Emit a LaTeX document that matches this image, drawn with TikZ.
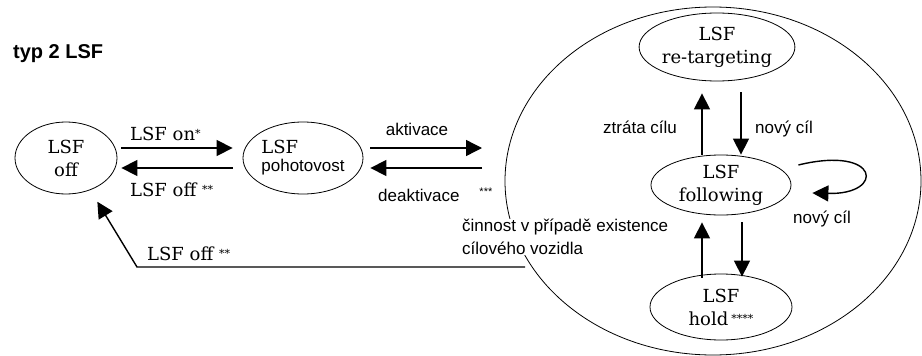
\documentclass[tikz,border=0pt]{standalone}
\usepackage{fontspec}
\setmainfont{DejaVu Serif}
\setsansfont{Liberation Sans}
\usetikzlibrary{shapes.geometric,arrows.meta,calc}
\newcommand{\hv}{\fontsize{17}{23}\selectfont\sffamily}
\newcommand{\ser}{\fontsize{18}{23}\selectfont}
\newcommand{\hvezdy}[1]{\raisebox{3pt}{\fontsize{11}{11}\selectfont #1}}
\begin{document}
\begin{tikzpicture}[x=1pt,y=-1pt,
    stav/.style={draw,ellipse,line width=0.8pt,inner sep=0pt,align=center,font=\ser},
    sip/.style={line width=1.4pt,-{Triangle[length=16pt,width=16pt]}},
    popis/.style={font=\hv,inner sep=0pt,anchor=base west}]
    \useasboundingbox (0,0) rectangle (922,356);
    \node[font=\fontsize{20}{20}\selectfont\sffamily\bfseries,inner sep=0pt,anchor=base west] (nadpis) at (13,58) {typ 2 LSF};

    % stavy vlevo
    \node[stav,minimum width=102pt,minimum height=72pt] (off) at (66,158) {LSF\\off};
    \node[stav,minimum width=120pt,minimum height=72pt,align=left] (poho) at (303,158) {LSF\\[-5pt]{\hv pohotovost}};

    % cilove vozidlo
    \node[stav,minimum width=416pt,minimum height=348pt] (cinnost) at (713,181) {};
    \node[stav,minimum width=154pt,minimum height=68pt] (retarg) at (717,47) {LSF\\re-targeting};
    \node[stav,minimum width=140pt,minimum height=60pt] (follow) at (721,185) {LSF\\following};
    \node[stav,minimum width=142pt,minimum height=66pt] (hold) at (721,307) {LSF\\hold\,\hvezdy{****}};
    \node[popis,anchor=north west,align=left,fill=white] (text) at (462,219) {činnost v případě existence\\cílového vozidla};

    \draw[sip] ($(off.east)+(4,-10)$) -- ($(poho.west)+(-10,-10)$);
    \draw[sip] ($(poho.west)+(-10,10)$) -- ($(off.east)+(4,10)$);
    \node[popis,font=\ser] (on) at (130,140) {LSF on\hvezdy{*}};
    \node[popis,font=\ser] (offa) at (130,196) {LSF off \hvezdy{**}};

    \coordinate (akt) at (482,148);
    \coordinate (deakt) at (482,168);
    \draw[sip] ($(poho.east)+(7,-10)$) -- (akt);
    \draw[sip] (deakt) -- ($(poho.east)+(7,10)$);
    \node[popis,anchor=base] (aktivace) at (417,135) {aktivace};
    \node[popis] (deaktivace) at (378,201) {deaktivace\hspace{20pt}\raisebox{3pt}{\hvezdy{***}}};

    \coordinate (zpet) at (525,267);
    \draw[sip] (zpet) -- ++(-388,0) -- ($(off.south east)+(-5,18)$);
    \node[popis,font=\ser] (offb) at (147,260) {LSF off \hvezdy{**}};

    \draw[sip] ($(follow.north)+(-19,0)$) -- ($(retarg.south)+(-15,12)$);
    \draw[sip] ($(retarg.south)+(24,11)$) -- ($(follow.north)+(20,0)$);
    \node[popis] (ztrata) at (603,133) {ztráta cílu};
    \node[popis] (novy) at (755,133) {nový cíl};

    \draw[sip] ($(hold.north)+(-19,4)$) -- ($(follow.south)+(-19,7)$);
    \draw[sip] ($(follow.south)+(21,7)$) -- ($(hold.north)+(21,3)$);

    \draw[sip] ($(follow.east)+(7,-20)$) .. controls +(82,-20) and +(73,2) .. ($(follow.east)+(21,8)$);
    \node[popis] (novyb) at (793,223) {nový cíl};
\end{tikzpicture}
\end{document}
